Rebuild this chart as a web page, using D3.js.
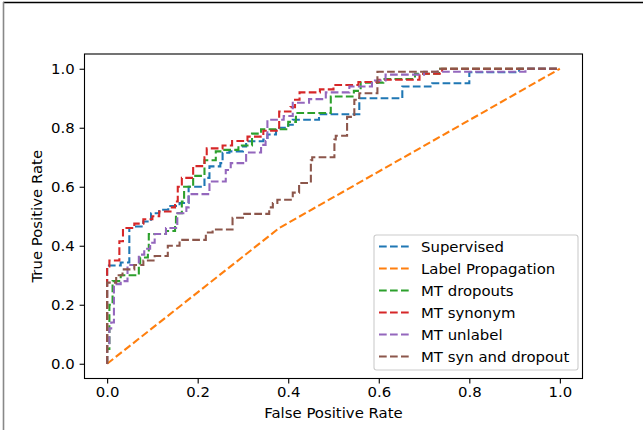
<!DOCTYPE html>
<html>
<head>
<meta charset="utf-8">
<script src="https://cdn.jsdelivr.net/npm/d3@7"></script>
<style>
  html, body { margin: 0; padding: 0; background: #fff; }
  svg text { font-family: "DejaVu Sans", sans-serif; fill: #000; }
</style>
</head>
<body>
<svg id="chart" width="643" height="430"></svg>
<script>
// ROC curves, [false positive rate, true positive rate] step corners
const seriesNames = ["Supervised", "Label Propagation", "MT dropouts", "MT synonym", "MT unlabel", "MT syn and dropout"];
const seriesColors = ["#1f77b4", "#ff7f0e", "#2ca02c", "#d62728", "#9467bd", "#8c564b"];

const supervised = [
  [0, 0], [0, 0.333], [0.03, 0.343], [0.049, 0.46], [0.06, 0.465], [0.08, 0.482], [0.097, 0.51],
  [0.115, 0.522], [0.135, 0.535], [0.16, 0.545], [0.18, 0.6], [0.215, 0.63], [0.226, 0.669],
  [0.25, 0.68], [0.255, 0.715], [0.27, 0.72], [0.3, 0.737], [0.307, 0.754], [0.345, 0.76],
  [0.354, 0.777], [0.373, 0.8], [0.4, 0.81], [0.41, 0.827], [0.468, 0.846], [0.557, 0.9],
  [0.652, 0.94], [0.718, 0.951], [0.8, 0.988], [0.91, 1.0], [1, 1]
];
const labelProp = [[0, 0], [0.38, 0.46], [1, 1]];
const mtDropouts = [
  [0, 0], [0, 0.05], [0.005, 0.2], [0.012, 0.28], [0.03, 0.3], [0.07, 0.34], [0.073, 0.36],
  [0.09, 0.38], [0.092, 0.44], [0.13, 0.45], [0.15, 0.47], [0.152, 0.51], [0.165, 0.55],
  [0.17, 0.6], [0.19, 0.637], [0.215, 0.69], [0.24, 0.72], [0.255, 0.725], [0.29, 0.74],
  [0.32, 0.78], [0.34, 0.795], [0.4, 0.82], [0.417, 0.85], [0.494, 0.906], [0.545, 0.925],
  [0.56, 0.953], [0.61, 0.965], [0.68, 0.983], [0.733, 1.0], [1, 1]
];
const mtSynonym = [
  [0, 0], [0, 0.33], [0.005, 0.35], [0.027, 0.415], [0.035, 0.46], [0.06, 0.475], [0.08, 0.49],
  [0.1, 0.5], [0.115, 0.516], [0.14, 0.53], [0.15, 0.55], [0.156, 0.6], [0.165, 0.63],
  [0.19, 0.67], [0.215, 0.7], [0.22, 0.73], [0.255, 0.74], [0.276, 0.755], [0.31, 0.77],
  [0.345, 0.79], [0.38, 0.855], [0.405, 0.87], [0.415, 0.895], [0.425, 0.92], [0.47, 0.93],
  [0.5, 0.945], [0.555, 0.955], [0.6, 0.963], [0.69, 0.983], [0.74, 1.0], [1, 1]
];
const mtUnlabel = [
  [0, 0], [0, 0.07], [0.005, 0.12], [0.009, 0.14], [0.015, 0.27], [0.03, 0.28], [0.045, 0.335],
  [0.07, 0.37], [0.082, 0.39], [0.095, 0.41], [0.105, 0.44], [0.13, 0.46], [0.155, 0.51],
  [0.175, 0.53], [0.18, 0.575], [0.226, 0.618], [0.262, 0.657], [0.273, 0.68], [0.307, 0.716],
  [0.34, 0.742], [0.35, 0.755], [0.354, 0.827], [0.39, 0.84], [0.41, 0.885], [0.446, 0.897],
  [0.483, 0.92], [0.535, 0.94], [0.585, 0.96], [0.615, 0.98], [0.7, 0.99], [0.924, 1.0], [1, 1]
];
const mtSynDrop = [
  [0, 0], [0, 0.275], [0.02, 0.3], [0.034, 0.32], [0.06, 0.335], [0.08, 0.35], [0.105, 0.365],
  [0.134, 0.4], [0.16, 0.42], [0.218, 0.445], [0.233, 0.455], [0.277, 0.495], [0.3, 0.508],
  [0.358, 0.53], [0.366, 0.545], [0.376, 0.556], [0.41, 0.58], [0.424, 0.613], [0.45, 0.69],
  [0.453, 0.7], [0.502, 0.76], [0.505, 0.773], [0.53, 0.837], [0.546, 0.895], [0.557, 0.917],
  [0.597, 0.99], [0.73, 1.0], [1, 1]
];
const allSeries = [supervised, labelProp, mtDropouts, mtSynonym, mtUnlabel, mtSynDrop];
const stepped = [true, false, true, true, true, true];

const tickValues = [0, 0.2, 0.4, 0.6, 0.8, 1.0];

const svg = d3.select("#chart");
const fontSize = "14.9px";
const dash = "7.7,3.3";

// frame edges of the original screenshot
svg.append("line").attr("x1", 3).attr("x2", 643).attr("y1", 2.5).attr("y2", 2.5)
  .attr("stroke", "#000").attr("stroke-width", 1.3);
svg.append("line").attr("x1", 3.5).attr("x2", 3.5).attr("y1", 2).attr("y2", 430)
  .attr("stroke", "#888").attr("stroke-width", 1.6);

const plotLeft = 84.5, plotTop = 54, plotW = 498, plotH = 324.5;

const x = d3.scaleLinear().domain([-0.05, 1.05]).range([plotLeft, plotLeft + plotW]);
const y = d3.scaleLinear().domain([-0.05, 1.05]).range([plotTop + plotH, plotTop]);

// curves
allSeries.forEach((data, i) => {
  const line = d3.line()
    .x(d => x(d[0]))
    .y(d => y(d[1]))
    .curve(stepped[i] ? d3.curveStepAfter : d3.curveLinear);
  svg.append("path")
    .datum(data)
    .attr("d", line)
    .attr("fill", "none")
    .attr("stroke", seriesColors[i])
    .attr("stroke-width", 2.08)
    .attr("stroke-dasharray", dash);
});

// axes
const xAxis = svg.append("g")
  .attr("transform", `translate(0,${plotTop + plotH})`)
  .call(d3.axisBottom(x).tickValues(tickValues).tickFormat(d3.format(".1f"))
    .tickSize(4.9).tickPadding(3.5));
const yAxis = svg.append("g")
  .attr("transform", `translate(${plotLeft},0)`)
  .call(d3.axisLeft(y).tickValues(tickValues).tickFormat(d3.format(".1f"))
    .tickSize(4.9).tickPadding(4.9));
[xAxis, yAxis].forEach(g => {
  g.select(".domain").remove();
  g.selectAll(".tick line").attr("stroke", "#000").attr("stroke-width", 1.1);
  g.selectAll(".tick text").style("font-size", fontSize).attr("fill", "#000");
});

svg.append("rect")
  .attr("x", plotLeft).attr("y", plotTop).attr("width", plotW).attr("height", plotH)
  .attr("fill", "none").attr("stroke", "#000").attr("stroke-width", 1.1);

svg.append("text")
  .attr("x", plotLeft + plotW / 2).attr("y", 418)
  .attr("text-anchor", "middle")
  .style("font-size", fontSize)
  .text("False Positive Rate");

svg.append("text")
  .attr("transform", `translate(42,${plotTop + plotH / 2}) rotate(-90)`)
  .attr("text-anchor", "middle")
  .style("font-size", fontSize)
  .text("True Positive Rate");

// legend
const legend = svg.append("g");
legend.append("rect")
  .attr("x", 374).attr("y", 235).attr("width", 204).attr("height", 135)
  .attr("rx", 2.5)
  .attr("fill", "#fff").attr("fill-opacity", 0.8)
  .attr("stroke", "#cccccc").attr("stroke-width", 1.1);

seriesNames.forEach((name, i) => {
  const cy = 246.5 + i * 22;
  legend.append("line")
    .attr("x1", 379).attr("x2", 409).attr("y1", cy).attr("y2", cy)
    .attr("stroke", seriesColors[i]).attr("stroke-width", 2.08)
    .attr("stroke-dasharray", dash);
  legend.append("text")
    .attr("x", 421).attr("y", cy)
    .attr("dy", "0.35em")
    .style("font-size", fontSize)
    .text(name);
});
</script>
</body>
</html>
